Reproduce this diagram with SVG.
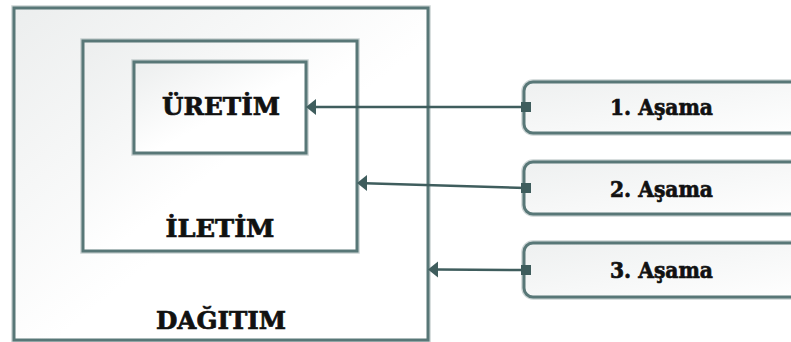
<svg xmlns="http://www.w3.org/2000/svg" width="791" height="342" viewBox="0 0 791 342">
  <defs>
    <linearGradient id="boxFill" x1="0" y1="0" x2="1" y2="1">
      <stop offset="0" stop-color="#eceeee"/>
      <stop offset="0.55" stop-color="#ffffff"/>
      <stop offset="1" stop-color="#ffffff"/>
    </linearGradient>
    <linearGradient id="stageFill" x1="0" y1="0" x2="1" y2="1">
      <stop offset="0" stop-color="#eef0f0"/>
      <stop offset="1" stop-color="#ffffff"/>
    </linearGradient>
  </defs>
  <style>
    .halo { fill: none; stroke: #a8b8b8; stroke-width: 5.5; stroke-opacity: 0.6; }
    .frame { fill: url(#boxFill); stroke: #587777; stroke-width: 3; }
    .stage { fill: url(#stageFill); stroke: #587777; stroke-width: 3; }
    .label { font-family: "DejaVu Serif", "Liberation Serif", serif; font-weight: bold; fill: #111111; stroke: #111111; stroke-width: 0.7; text-anchor: middle; }
    .wire { stroke: #3f5d5d; stroke-width: 2.5; fill: none; }
    .head { fill: #3f5d5d; }
  </style>

  <!-- nested levels -->
  <g id="dagitim">
    <rect class="halo" x="14" y="8" width="414" height="332"/>
    <rect class="frame" x="14" y="8" width="414" height="332"/>
    <text class="label" x="221" y="329" font-size="24" textLength="130" lengthAdjust="spacingAndGlyphs">DAĞITIM</text>
  </g>
  <g id="iletim">
    <rect class="halo" x="83" y="41" width="274" height="210"/>
    <rect class="frame" x="83" y="41" width="274" height="210"/>
    <text class="label" x="220" y="237" font-size="24" textLength="109" lengthAdjust="spacingAndGlyphs">İLETİM</text>
  </g>
  <g id="uretim">
    <rect class="halo" x="134" y="62" width="172" height="91"/>
    <rect class="frame" x="134" y="62" width="172" height="91"/>
    <text class="label" x="221" y="115" font-size="24" textLength="118" lengthAdjust="spacingAndGlyphs">ÜRETİM</text>
  </g>

  <!-- stage boxes -->
  <g id="asama1">
    <rect class="halo" x="524" y="82" width="290" height="51" rx="9"/>
    <rect class="stage" x="524" y="82" width="290" height="51" rx="9"/>
    <text class="label" x="661.5" y="115" font-size="23" textLength="103" lengthAdjust="spacingAndGlyphs">1. Aşama</text>
  </g>
  <g id="asama2">
    <rect class="halo" x="524" y="162" width="290" height="52" rx="9"/>
    <rect class="stage" x="524" y="162" width="290" height="52" rx="9"/>
    <text class="label" x="661.5" y="197" font-size="23" textLength="103" lengthAdjust="spacingAndGlyphs">2. Aşama</text>
  </g>
  <g id="asama3">
    <rect class="halo" x="524" y="243" width="290" height="54" rx="9"/>
    <rect class="stage" x="524" y="243" width="290" height="54" rx="9"/>
    <text class="label" x="661.5" y="278" font-size="23" textLength="103" lengthAdjust="spacingAndGlyphs">3. Aşama</text>
  </g>

  <!-- connectors: square tail at the stage box, arrowhead at the level box -->
  <g id="connectors">
    <line class="wire" x1="526" y1="107" x2="314" y2="107"/>
    <polygon class="head" points="306,107 316,99 316,115"/>
    <rect class="head" x="521" y="102" width="10" height="10"/>

    <line class="wire" x1="526" y1="188" x2="365" y2="183.2"/>
    <polygon class="head" points="357,183 367,175 367,191"/>
    <rect class="head" x="521" y="183" width="10" height="10"/>

    <line class="wire" x1="526" y1="270" x2="436" y2="269.5"/>
    <polygon class="head" points="428,269.5 438,261.5 438,277.5"/>
    <rect class="head" x="521" y="265" width="10" height="10"/>
  </g>
</svg>
